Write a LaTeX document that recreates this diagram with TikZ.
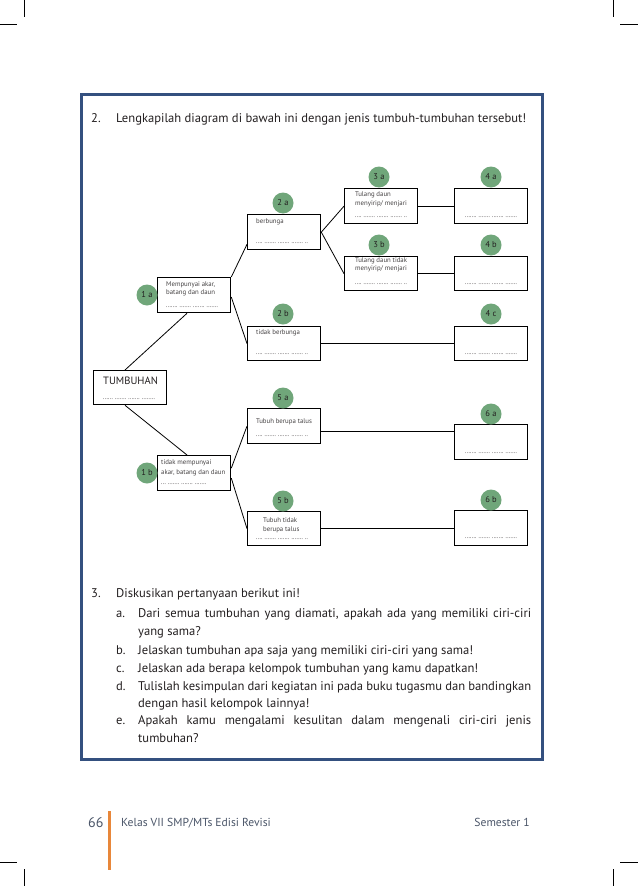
\documentclass[tikz,border=0pt]{standalone}
\usepackage{fontspec}
\setmainfont{PT Sans}
\usetikzlibrary{calc}
\definecolor{frameblue}{HTML}{34507F}
\definecolor{dotgreen}{HTML}{70A67A}
\definecolor{txt}{HTML}{231F20}
\definecolor{foot}{HTML}{4A5568}
\definecolor{orangebar}{HTML}{E8873A}
\begin{document}
\begin{tikzpicture}[x=1pt,y=-1pt,
  box/.style={draw=black, line width=1.3pt, minimum width=73pt, minimum height=35pt, inner sep=0pt, anchor=north west},
  tag/.style={circle, fill=dotgreen, minimum size=21pt, inner sep=0pt, font=\fontsize{8.5}{9}\selectfont, text=txt},
  small/.style={anchor=base west, inner sep=0pt, font=\fontsize{6.8}{7}\selectfont, text=txt!85},
  dotrow/.style={anchor=base west, inner sep=0pt, font=\fontsize{6}{6}\selectfont, text=txt},
  link/.style={line width=0.8pt, draw=black},
  body/.style={anchor=base west, inner sep=0pt, font=\fontsize{12.6}{13}\selectfont, text=txt},
  footer/.style={inner sep=0pt, font=\fontsize{11.6}{12}\selectfont, text=foot},
  crop/.style={line width=0.6pt, draw=black}]
\useasboundingbox (0,0) rectangle (638,886);
% crop marks
\draw[crop] (24,0) -- (24,17); \draw[crop] (0,24) -- (17,24);
\draw[crop] (613,0) -- (613,17); \draw[crop] (620,24) -- (638,24);
\draw[crop] (0,862) -- (17,862); \draw[crop] (24,869) -- (24,886);
\draw[crop] (620,862) -- (638,862); \draw[crop] (613,869) -- (613,886);
% frame
\draw[frameblue, line width=3pt] (81,94) rectangle (542,759);
% header
\node[body] (n2) at (91,122) {2.};
\node[body] (h2) at (116,122) {Lengkapilah diagram di bawah ini dengan jenis tumbuh-tumbuhan tersebut!};
% boxes
\node[box, minimum height=34pt] (bT) at (93,370) {};
\node[box] (b1a) at (157,277) {};
\node[box] (b1b) at (157,455) {};
\node[box] (b2a) at (247,214) {};
\node[box, minimum height=34pt] (b2b) at (247,326) {};
\node[box] (b5a) at (247,408) {};
\node[box, minimum height=34pt] (b5b) at (247,511) {};
\node[box] (b3a) at (344,188) {};
\node[box, minimum height=34pt] (b3b) at (344,256) {};
\node[box] (b4a) at (454,188) {};
\node[box, minimum height=34pt] (b4b) at (454,256) {};
\node[box, minimum height=34pt] (b4c) at (454,326) {};
\node[box] (b6a) at (454,424) {};
\node[box] (b6b) at (454,510) {};
% connectors
\draw[link] ([xshift=32pt]bT.north west) -- ([xshift=30pt]b1a.south west);
\draw[link] ([xshift=32pt]bT.south west) -- ([xshift=30pt]b1b.north west);
\draw[link] (b1a.north east) -- ([yshift=6pt]b2a.south west);
\draw[link] ([yshift=-20pt]b1a.north east) -- (b2b.west);
\draw[link] (b2a.east) -- (b3a.west);
\draw[link] (b2a.east) -- (b3b.west);
\draw[link] (b3a.east) -- (b4a.west);
\draw[link] (b3b.east) -- (b4b.west);
\draw[link] (b2b.east) -- (b4c.west);
\draw[link] ([yshift=5pt]b1b.east) -- (b5a.west);
\draw[link] ([yshift=-5pt]b1b.east) -- (b5b.west);
\draw[link] ([yshift=-5pt]b5a.east) -- ([yshift=-5pt]b5a.east -| b6a.west);
\draw[link] (b5b.east) -- (b5b.east -| b6b.west);
% box texts
\node[anchor=base west, inner sep=0pt, font=\fontsize{10.6}{11}\selectfont, text=txt] (tT) at (103,384) {TUMBUHAN};
\node[dotrow] (dT) at (103,399) {...... ....... ....... ........};
\node[small] (t1a1) at (166,286) {Mempunyai akar,};
\node[small] (t1a2) at (166,294) {batang dan daun};
\node[dotrow] (d1a) at (166,307) {....... ....... ....... .......};
\node[small] (t2a) at (256,223) {berbunga};
\node[dotrow] (d2a) at (256,243) {.... ....... ....... ....... ..};
\node[small] (t2b) at (256,334) {tidak berbunga};
\node[dotrow] (d2b) at (256,354) {.... ....... ....... ....... ..};
\node[small] (t5a) at (256,423) {Tubuh berupa talus};
\node[dotrow] (d5a) at (256,436) {.... ....... ....... ....... ..};
\node[small] (t1b1) at (161,464) {tidak mempunyai};
\node[small] (t1b2) at (161,474) {akar, batang dan daun};
\node[dotrow] (d1b) at (161,484) {... ....... ....... .......};
\node[small] (t5b1) at (263,522) {Tubuh tidak};
\node[small] (t5b2) at (263,531) {berupa talus};
\node[dotrow] (d5b) at (256,539) {.... ....... ....... ....... ..};
\node[small] (t3a1) at (355,196) {Tulang daun};
\node[small] (t3a2) at (355,205) {menyirip/ menjari};
\node[dotrow] (d3a) at (355,217) {.... ....... ....... ....... ..};
\node[small] (t3b1) at (355,262) {Tulang daun tidak};
\node[small] (t3b2) at (355,270) {menyirip/ menjari};
\node[dotrow] (d3b) at (355,284) {.... ....... ....... ....... ..};
\node[dotrow] (d4a) at (465,217) {....... ....... ....... .......};
\node[dotrow] (d4b) at (465,284) {....... ....... ....... .......};
\node[dotrow] (d4c) at (465,354) {....... ....... ....... .......};
\node[dotrow] (d6a) at (465,453) {....... ....... ....... .......};
\node[dotrow] (d6b) at (465,538) {....... ....... ....... .......};
% tags
\node[tag] (c1a) at (147,295) {1 a};
\node[tag] (c1b) at (147,473) {1 b};
\node[tag] (c2a) at (283,203) {2 a};
\node[tag] (c2b) at (283,314) {2 b};
\node[tag] (c5a) at (283,398) {5 a};
\node[tag] (c5b) at (283,501) {5 b};
\node[tag] (c3a) at (379,177) {3 a};
\node[tag] (c3b) at (379,245) {3 b};
\node[tag] (c4a) at (491,177) {4 a};
\node[tag] (c4b) at (491,245) {4 b};
\node[tag] (c4c) at (491,314) {4 c};
\node[tag] (c6a) at (491,414) {6 a};
\node[tag] (c6b) at (491,500) {6 b};
% questions
\node[body] (n3) at (91,597) {3.};
\node[body] (q3) at (116,597) {Diskusikan pertanyaan berikut ini!};
\node[body] (la) at (116,617) {a.};
\node[body] (qa1) at (138,617) {\makebox[393pt][s]{Dari semua tumbuhan yang diamati, apakah ada yang memiliki ciri-ciri}};
\node[body] (qa2) at (138,635) {yang sama?};
\node[body] (lb) at (116,654) {b.};
\node[body] (qb) at (138,654) {Jelaskan tumbuhan apa saja yang memiliki ciri-ciri yang sama!};
\node[body] (lc) at (116,672) {c.};
\node[body] (qc) at (138,672) {Jelaskan ada berapa kelompok tumbuhan yang kamu dapatkan!};
\node[body] (ld) at (116,690) {d.};
\node[body] (qd1) at (138,690) {\makebox[393pt][s]{Tulislah kesimpulan dari kegiatan ini pada buku tugasmu dan bandingkan}};
\node[body] (qd2) at (138,707) {dengan hasil kelompok lainnya!};
\node[body] (le) at (116,724) {e.};
\node[body] (qe1) at (138,724) {\makebox[393pt][s]{Apakah kamu mengalami kesulitan dalam mengenali ciri-ciri jenis}};
\node[body] (qe2) at (138,742) {tumbuhan?};
% footer
\node[footer, anchor=base west, font=\fontsize{14}{15}\selectfont] (pg) at (88,827) {66};
\fill[orangebar] (108,811) rectangle (111,870);
\node[footer, anchor=base west] (ft1) at (121,826) {Kelas VII SMP/MTs Edisi Revisi};
\node[footer, anchor=base east] (ft2) at (530,826) {Semester 1};
\end{tikzpicture}
\end{document}
